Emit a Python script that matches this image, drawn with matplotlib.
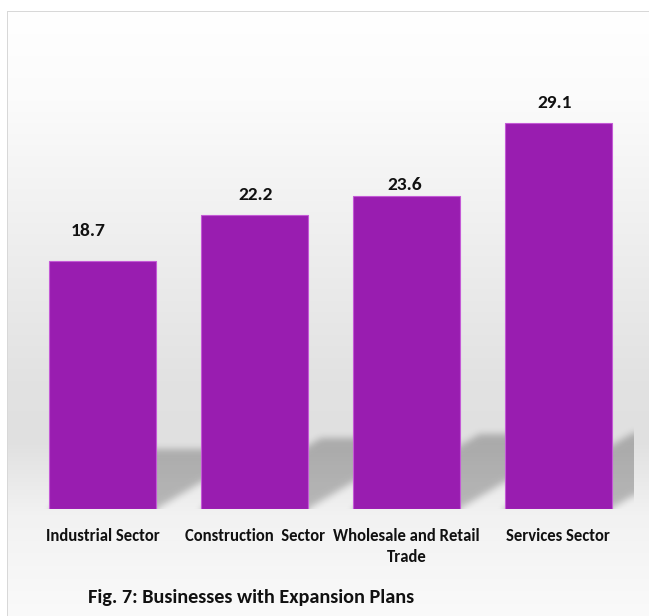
import numpy as np
import matplotlib
matplotlib.use("Agg")
import matplotlib.pyplot as plt

categories = ["Industrial Sector", "Construction  Sector", "Wholesale and Retail\nTrade", "Services Sector"]
values = [18.7, 22.2, 23.6, 29.1]
value_labels = ["18.7", "22.2", "23.6", "29.1"]
title = "Fig. 7: Businesses with Expansion Plans"

# label offsets in pixels (dx, dy above bar top) -- style only
label_dx = [-15, 1, -2, -3]
label_dy = [30, 20, 11, 20]

plt.rcParams["font.family"] = ["Carlito", "DejaVu Sans"]

W, H = 649, 616
fig = plt.figure(figsize=(W / 100, H / 100), dpi=100)

# ---- background (frame with vertical gradient) ----
bg_ax = fig.add_axes([0, 0, 1, 1], zorder=0)
bg_ax.set_axis_off()
ys = np.arange(H)
stops_y = [11, 100, 200, 300, 380, 440, 490, 515, 616]
stops_v = [255, 251, 242, 233, 226, 224, 236, 242, 250]
col = np.interp(ys, stops_y, stops_v) / 255.0
img = np.ones((H, W, 3))
img[:, :, :] = col[:, None, None]
img[:11, :, :] = 1.0
img[:, :7, :] = 1.0
img[11, 7:, :] = 0.85
img[11:, 7, :] = 0.85
bg_ax.imshow(img, extent=(0, W, 0, H), origin="upper", aspect="auto", interpolation="nearest")
bg_ax.set_xlim(0, W)
bg_ax.set_ylim(0, H)

# ---- main axes ----
left_px, right_px, bottom_px, top_px = 27, 634, 509, 45
ax = fig.add_axes([left_px / W, (H - bottom_px) / H, (right_px - left_px) / W, (bottom_px - top_px) / H], zorder=1)
ax.set_facecolor("none")
ymax = 35.0
n = len(values)
ax.set_xlim(-0.5, n - 0.5)
ax.set_ylim(0, ymax)
for s in ax.spines.values():
    s.set_visible(False)
ax.set_yticks([])
ax.tick_params(axis="x", length=0, pad=13.5)
x = np.arange(n)
bar_w = 0.705

# perspective shadow cast by each bar, computed from the values
nx, ny = right_px - left_px, bottom_px - top_px
gx = np.linspace(-0.5, n - 0.5, nx)
gy = np.linspace(ymax, 0, ny)
XX, YY = np.meshgrid(gx, gy)
mask = np.zeros_like(XX)
px_per_x = nx / n
px_per_y = ny / ymax
shift_per_y = 1.7 * px_per_y / px_per_x
for xi, v in zip(x, values):
    sh = 0.24 * v
    inside = (YY >= 0) & (YY <= sh)
    inside &= (XX >= xi - bar_w / 2 + YY * shift_per_y) & (XX <= xi + bar_w / 2 + YY * shift_per_y)
    mask = np.maximum(mask, inside.astype(float))

def blur(a, sigma):
    r = int(3 * sigma)
    k = np.exp(-0.5 * (np.arange(-r, r + 1) / sigma) ** 2)
    k /= k.sum()
    pad = np.pad(a, r, mode="edge")
    pad = np.apply_along_axis(lambda m: np.convolve(m, k, mode="same"), 0, pad)
    pad = np.apply_along_axis(lambda m: np.convolve(m, k, mode="same"), 1, pad)
    return pad[r:-r, r:-r]

mask = blur(mask, 3.5)
shadow = np.zeros((ny, nx, 4))
shadow[:, :, 3] = mask * 0.24
ax.imshow(shadow, extent=(-0.5, n - 0.5, 0, ymax), origin="upper", aspect="auto", zorder=1)

ax.bar(x, values, width=bar_w, color="#991db0", edgecolor="#c45ad6", linewidth=0.8, zorder=2)

for xi, v, lab, dx, dy in zip(x, values, value_labels, label_dx, label_dy):
    ax.annotate(lab, (xi, v), xytext=(dx * 0.72, dy * 0.72), textcoords="offset points",
                ha="center", va="center", fontsize=14, fontweight="bold", color="#111111")

ax.set_xticks(x)
ax.set_xticklabels(categories, fontsize=12, fontweight="bold", color="#111111", linespacing=1.4)
for t in ax.get_xticklabels():
    t.set_verticalalignment("top")

fig.text(88 / W, 1 - 598 / H, title, ha="left", va="center", fontsize=14.6, fontweight="bold", color="#111111")

fig.savefig("out.png", dpi=100)
